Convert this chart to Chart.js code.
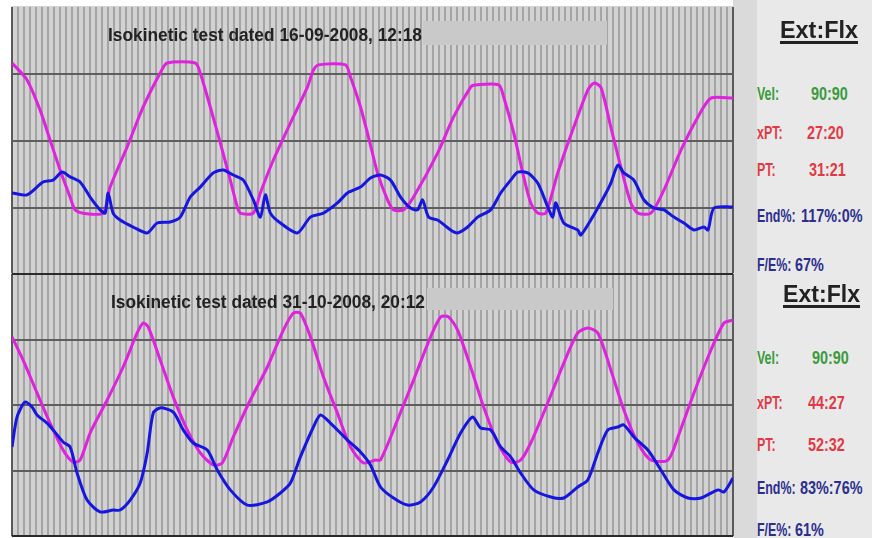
<!DOCTYPE html>
<html><head><meta charset="utf-8">
<script src="https://cdn.jsdelivr.net/npm/chart.js@4.4.1/dist/chart.umd.min.js"></script>
<style>
html,body{margin:0;padding:0;background:#fff;width:872px;height:538px;overflow:hidden;position:relative;font-family:"Liberation Sans",Arial,sans-serif}
.cv{position:absolute;background:#d2d2d2}
#side{position:absolute;left:733px;top:0;width:139px;height:538px;background:linear-gradient(to right,#dadada 0,#dadada 24px,#e9e9e9 24px,#e9e9e9 100%)}
.t{position:absolute;white-space:nowrap;font-weight:bold;transform-origin:0 0;line-height:1}
.box{position:absolute;background:#c9c9c9}
.g{color:#3a9a3c}.r{color:#e23a44}.b{color:#2b2f8f}
</style></head><body>
<div id="side"></div>
<canvas id="c1" class="cv" width="723" height="270" style="left:11px;top:6px"></canvas>
<canvas id="c2" class="cv" width="723" height="264" style="left:11px;top:273px"></canvas>
<div id="layer"></div>
<script>
// ---- data (x: sample index, y: 0-100 scale) ----
const yTicks = [0, 25, 50, 75, 100];
const xMax = 720;
const xGridStep = 6;

const test1Title = "Isokinetic test dated 16-09-2008, 12:18";
const test2Title = "Isokinetic test dated 31-10-2008, 20:12";

const test1AngleX = [0,15,28,38,48,58,63,70,91,98,115,131,148,155,183,188,198,208,218,225,228,241,248,261,278,295,301,306,333,338,348,358,365,375,381,391,401,425,441,458,462,486,491,501,511,518,525,533,545,561,575,581,588,598,608,618,625,638,651,668,685,698,720];
const test1AngleY = [79.1,72.8,61.6,50.4,39.2,29.1,24.3,23.1,23.1,32.8,47.8,62.7,75.4,79.1,79.1,75.4,62.7,49.3,35.4,25.4,23.1,23.1,30.6,42.9,56.7,70.1,76.5,78.4,78.4,73.9,62.7,48.5,38.1,28.0,24.3,24.3,29.1,45.5,59.0,70.1,70.9,70.9,66.4,53.0,36.6,26.9,23.1,23.1,38.1,55.2,69.0,71.6,70.1,55.2,40.3,26.9,23.1,23.1,31.7,46.6,59.0,66.0,66.0];
const test1TorqueX = [0,15,31,41,50,58,68,78,88,93,96,101,108,121,135,145,158,168,178,188,201,211,221,231,241,248,253,258,268,285,298,311,325,335,348,358,368,378,388,398,405,410,416,425,438,445,455,465,478,488,498,505,515,525,535,540,543,551,565,568,578,591,598,605,611,621,631,641,651,661,671,681,691,695,701,720];
const test1TorqueY = [30.6,29.9,34.7,35.4,38.4,36.6,34.7,29.1,24.3,23.1,30.6,23.1,20.5,17.9,15.7,19.4,19.8,21.6,29.1,32.8,38.1,39.2,37.3,35.4,28.0,21.6,29.9,23.1,19.4,15.7,21.6,23.1,26.9,30.6,32.8,36.2,37.3,35.4,29.1,25.0,24.3,28.0,21.6,20.5,16.8,15.7,17.9,21.6,24.3,30.6,35.4,38.4,38.1,34.3,25.4,21.6,26.9,19.4,16.8,14.9,20.5,29.1,34.3,41.0,38.1,35.4,28.0,25.0,24.3,21.6,19.4,16.8,17.9,16.8,25.0,25.4];

const test2AngleX = [0,11,25,38,51,61,68,78,95,111,125,131,136,148,161,175,188,201,210,221,238,255,271,281,288,298,311,325,338,351,363,368,385,401,418,428,436,445,458,471,485,498,508,518,535,551,565,575,585,598,611,625,638,655,665,681,698,711,720];
const test2AngleY = [76.0,67.2,54.6,43.1,32.8,28.2,29.0,39.3,51.9,64.5,77.5,81.3,79.8,67.2,53.1,40.5,31.7,27.1,27.9,37.8,51.9,64.5,78.6,85.1,85.1,76.0,60.7,46.9,34.0,27.9,29.0,29.0,44.3,59.5,76.0,83.6,83.6,78.6,64.5,49.2,35.5,28.2,29.0,35.5,50.8,66.0,77.5,79.4,77.5,63.4,48.1,35.5,29.0,29.0,37.8,54.6,71.0,81.3,82.4];
const test2TorqueX = [0,5,13,20,25,35,41,51,58,65,75,88,101,108,118,128,135,141,148,161,171,181,195,205,218,235,255,268,278,288,301,308,318,335,348,358,368,381,395,408,421,435,448,460,468,478,488,498,508,521,538,551,565,575,585,595,605,611,621,635,648,661,675,688,705,711,720];
const test2TorqueY = [34.0,45.4,51.1,49.2,46.2,43.1,40.5,35.9,34.0,24.0,13.7,9.2,9.9,9.9,13.7,20.2,31.7,46.9,48.9,47.3,40.5,35.5,32.8,25.2,17.6,11.8,13.0,16.4,20.2,30.2,41.6,46.2,43.1,36.6,32.1,27.1,18.7,14.5,11.8,13.0,18.7,29.0,39.3,45.4,41.2,40.5,34.0,30.2,24.0,17.6,14.9,14.5,18.7,21.4,31.7,40.5,41.6,42.4,37.8,32.8,25.2,17.6,14.5,14.5,17.6,16.8,22.1];

const statLabels = ["Vel:", "xPT:", "PT:", "End%:", "F/E%:"];
const test1Stats = ["90:90", "27:20", "31:21", "117%:0%", "67%"];
const test2Stats = ["90:90", "44:27", "52:32", "83%:76%", "61%"];

// ---- charts ----
function pts(xs, ys){ return xs.map((x,i)=>({x:x, y:ys[i]})); }

function makeChart(id, angX, angY, torX, torY, topDark){
  new Chart(document.getElementById(id), {
    type: 'line',
    data: { datasets: [
      { data: pts(torX, torY), borderColor: '#1616e0', borderWidth: 3, pointRadius: 0, tension: 0.25, fill: false },
      { data: pts(angX, angY), borderColor: '#de22de', borderWidth: 3, pointRadius: 0, tension: 0.25, fill: false }
    ]},
    options: {
      responsive: false, animation: false, events: [],
      layout: { padding: 1 },
      plugins: { legend: { display: false }, tooltip: { enabled: false }, title: { display: false } },
      scales: {
        x: { type: 'linear', min: 0, max: xMax,
             ticks: { display: false, stepSize: xGridStep, maxTicksLimit: 1000 },
             border: { display: false },
             grid: { drawTicks: false,
                     color: c => (c.tick.value === 0 || c.tick.value === xMax) ? '#5a5a5a' : '#a4a4a4',
                     lineWidth: 2 } },
        y: { type: 'linear', min: yTicks[0], max: yTicks[yTicks.length-1],
             afterBuildTicks: s => { s.ticks = yTicks.map(v => ({value: v})); },
             ticks: { display: false },
             border: { display: false },
             grid: { drawTicks: false,
                     color: c => c.tick.value === 100 ? (topDark ? '#2a2a2a' : 'rgba(0,0,0,0)') : (c.tick.value === 0 ? '#2a2a2a' : '#5e5e5e'),
                     lineWidth: 2 } }
      }
    }
  });
}
makeChart('c1', test1AngleX, test1AngleY, test1TorqueX, test1TorqueY, false);
makeChart('c2', test2AngleX, test2AngleY, test2TorqueX, test2TorqueY, true);

// ---- text ----
const layer = document.getElementById('layer');
function addBox(l, t, w, h){ const d=document.createElement('div'); d.className='box'; Object.assign(d.style,{left:l+'px',top:t+'px',width:w+'px',height:h+'px'}); layer.appendChild(d); }
function addText(txt, left, capCenter, fs, cls, opts){
  opts = opts || {};
  const d = document.createElement('div');
  d.className = 't ' + (cls||'');
  d.textContent = txt;
  d.style.fontSize = fs + 'px';
  d.style.left = left + 'px';
  d.style.top = (capCenter - 0.48*fs) + 'px';
  if (opts.color) d.style.color = opts.color;
  if (opts.underline) { d.style.textDecoration = 'underline'; d.style.textDecorationThickness = '3px'; d.style.textUnderlineOffset = '3px'; }
  layer.appendChild(d);
  let sx = opts.scale || 1;
  if (opts.width) sx = opts.width / d.getBoundingClientRect().width;
  d.style.transform = 'scaleX(' + sx + ')';
  return d;
}
addBox(423, 21, 184, 24);
addBox(427, 288, 186, 22);
addText(test1Title, 108, 34.5, 18, '', {color:'#222', width:314});
addText(test2Title, 111, 301.5, 18, '', {color:'#222', width:314});

addText("Ext:Flx", 780, 30, 24, '', {color:'#222', width:78, underline:true});
addText("Ext:Flx", 783, 294, 24, '', {color:'#222', width:77, underline:true});

const cls = ['g','r','r','b','b'];
const top1 = [94, 133, 170, 216, 265];
const val1 = [811, 807, 809, 801, 795];
const top2 = [358, 403, 445, 488, 530];
const val2 = [812, 808, 808, 800, 795];
for (let i=0;i<5;i++){
  addText(statLabels[i], 757, top1[i], 18, cls[i], {scale:0.69});
  addText(test1Stats[i], val1[i], top1[i], 18, cls[i], {scale:0.8});
  addText(statLabels[i], 757, top2[i], 18, cls[i], {scale:0.69});
  addText(test2Stats[i], val2[i], top2[i], 18, cls[i], {scale:0.8});
}
</script>
</body></html>
